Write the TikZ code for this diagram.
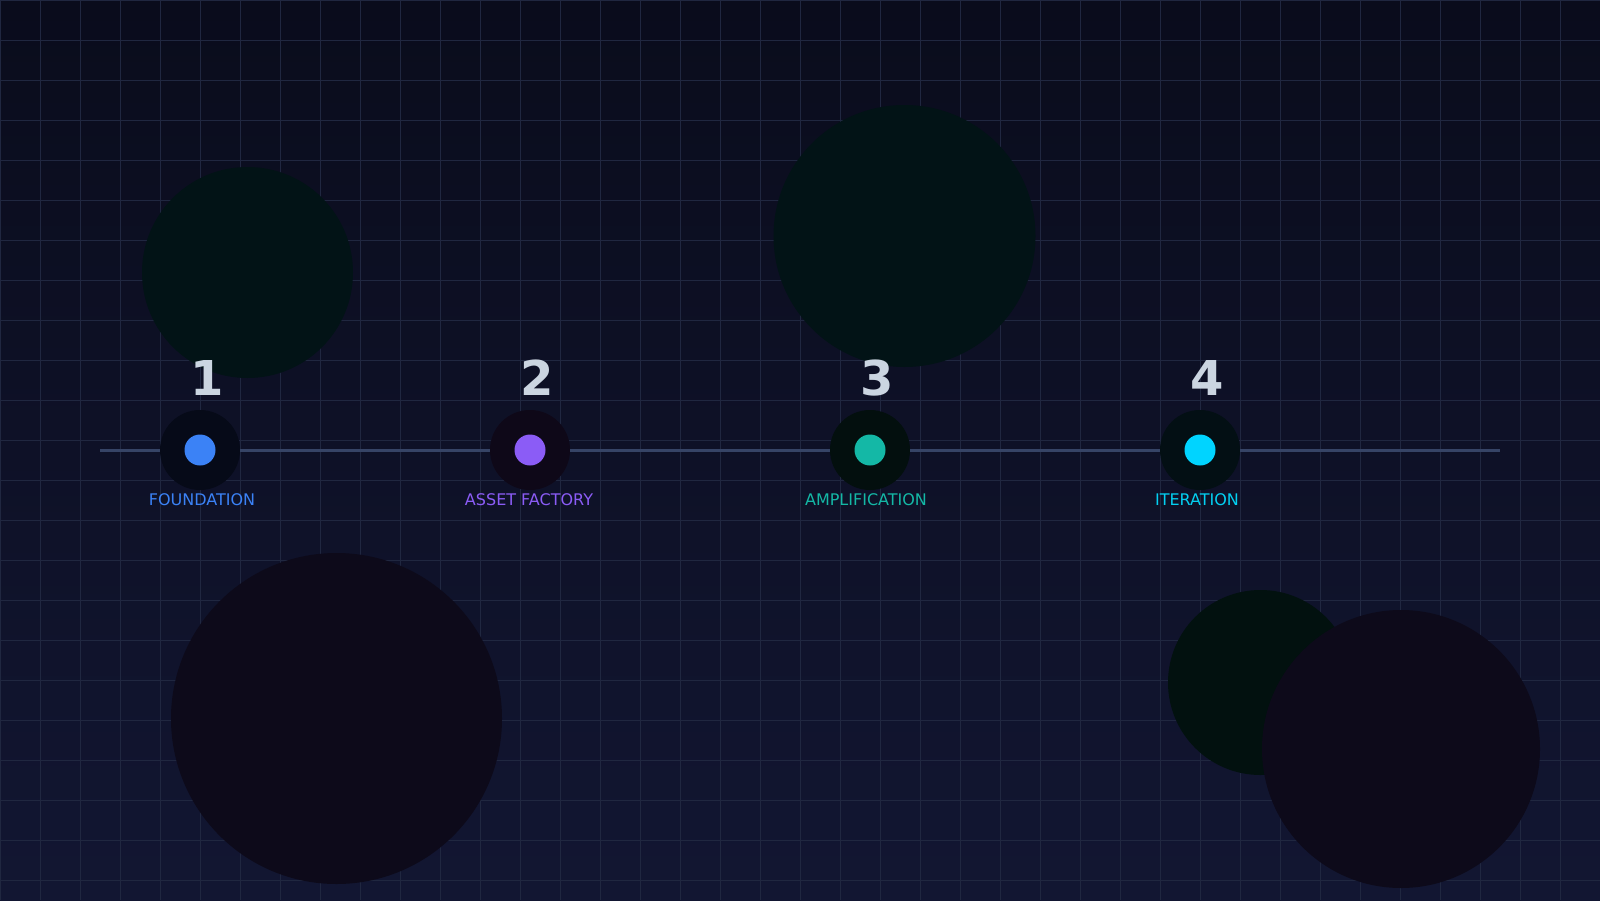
\documentclass[tikz,border=0pt]{standalone}
\usepackage{fontspec}
\setmainfont{DejaVu Sans}
\usetikzlibrary{calc}
\definecolor{bgtop}{RGB}{10,12,28}
\definecolor{bgbot}{RGB}{18,22,50}
\definecolor{gridc}{RGB}{32,39,64}
\definecolor{linec}{RGB}{54,68,102}
\definecolor{numc}{RGB}{203,213,225}
\definecolor{blueA}{RGB}{59,130,246}
\definecolor{violetA}{RGB}{139,92,246}
\definecolor{tealA}{RGB}{20,184,166}
\definecolor{cyanA}{RGB}{0,212,255}
\definecolor{haloA}{RGB}{6,10,24}
\definecolor{haloB}{RGB}{14,8,24}
\definecolor{haloC}{RGB}{3,15,14}
\definecolor{haloD}{RGB}{3,15,20}
\definecolor{blobG}{RGB}{2,19,22}
\definecolor{blobP}{RGB}{13,10,26}
\definecolor{blobD}{RGB}{2,17,15}
\tikzset{
	%	halo/.style={circle,draw,minimum size=40pt},
	halo/.style={circle,inner sep=0pt,minimum size=40pt},
	dot/.style={circle,inner sep=0pt,minimum size=15.5pt},
	num/.style={anchor=base,inner sep=0pt,text=numc,font=\fontsize{24pt}{24pt}\selectfont\bfseries},
	lab/.style={anchor=base,inner sep=0pt,font=\fontsize{8pt}{8pt}\selectfont},
	track/.style={draw=linec,line width=1.5pt},
	gridline/.style={draw=gridc,line width=0.5pt}
}

\begin{document}
\begin{tikzpicture}[x=0.5pt,y=-0.5pt]
	\useasboundingbox (0,0) rectangle (1600,900);
	\shade[top color=bgtop,bottom color=bgbot] (0,0) rectangle (1600,900);
	\foreach \gx in {0,40,...,1600} \draw[gridline] (\gx,0) -- (\gx,900);
	\foreach \gy in {0,40,...,880} \draw[gridline] (0,\gy) -- (1600,\gy);
	
	\fill[blobG] (247.5,272.5) circle (52.75pt);
	\fill[blobG] (904.5,236) circle (65.5pt);
	\fill[blobP] (336.5,718.5) circle (82.75pt);
	\fill[blobD] (1260.5,682.5) circle (46.25pt);
	\fill[blobP] (1401,749) circle (69.5pt);
	
	\coordinate (t0) at (100,450);
	\coordinate (t5) at (1500,450);
	\node[halo,fill=haloA] (s1) at (200,450) {};
	\node[halo,fill=haloB] (s2) at (530,450) {};
	\node[halo,fill=haloC] (s3) at (870,450) {};
	\node[halo,fill=haloD] (s4) at (1200,450) {};
	\node[dot,fill=blueA] (d1) at (s1) {};
	\node[dot,fill=violetA] (d2) at (s2) {};
	\node[dot,fill=tealA] (d3) at (s3) {};
	\node[dot,fill=cyanA] (d4) at (s4) {};
	
	\draw[track] (t0) -- (s1) -- (s2) -- (s3) -- (s4) -- (t5);
	
	\node[num] (n1) at (207,395) {1};
	\node[num] (n2) at (537,395) {2};
	\node[num] (n3) at (877,395) {3};
	\node[num] (n4) at (1207,395) {4};
	
	\node[lab,text=blueA] (l1) at (202,505) {FOUNDATION};
	\node[lab,text=violetA] (l2) at (529,505) {ASSET FACTORY};
	\node[lab,text=tealA] (l3) at (866,505) {AMPLIFICATION};
	\node[lab,text=cyanA!85!tealA] (l4) at (1197,505) {ITERATION};
\end{tikzpicture}
\end{document}
